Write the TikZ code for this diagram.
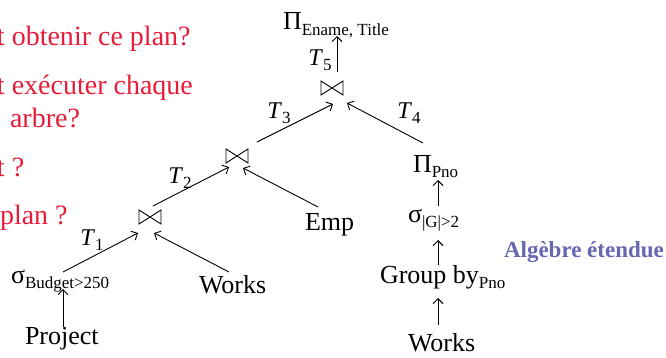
\documentclass[tikz,border=0pt]{standalone}
\usepackage{fontspec}
\setmainfont{Liberation Serif}
\usetikzlibrary{arrows.meta}
\definecolor{qred}{RGB}{232,28,56}
\definecolor{qblue}{RGB}{102,102,178}
\newcommand\sbs[1]{\raisebox{-0.5ex}{\fontsize{17}{17}\selectfont #1}}
\newcommand\tlab[1]{\textit{T}\raisebox{-0.45ex}{\fontsize{17}{17}\selectfont #1}}
\begin{document}
\begin{tikzpicture}[x=1pt,y=-1pt,
  every node/.style={inner sep=0pt,outer sep=0pt,font=\fontsize{26}{28}\selectfont},
  op/.style={anchor=base west},
  qtext/.style={anchor=base west,text=qred,font=\fontsize{28}{30}\selectfont},
  lab/.style={font=\fontsize{24}{24}\selectfont},
  joinop/.style={minimum width=22pt,minimum height=14pt},
  arr/.style={-{Straight Barb[length=5pt,width=10pt]},line width=0.9pt}]
\useasboundingbox (0,0) rectangle (666,358);
% questions
\node[qtext] (q1) at (-3,46) {t obtenir ce plan?};
\node[qtext] (q2) at (-3,95) {t exécuter chaque};
\node[qtext] (q3) at (10,128) {arbre?};
\node[qtext] (q4) at (-3,176) {t ?};
\node[qtext] (q5) at (0,224) {plan ?};
% top
\node[op] (pt) at (283,30) {Π\sbs{Ename, Title}};
\node[joinop] (j3) at (332,88) {};
\draw[line width=0.9pt] (j3.north west) -- (j3.south west) -- (j3.north east) -- (j3.south east) -- cycle;
\node[joinop] (j2) at (237,156) {};
\draw[line width=0.9pt] (j2.north west) -- (j2.south west) -- (j2.north east) -- (j2.south east) -- cycle;
\node[joinop] (j1) at (150,217) {};
\draw[line width=0.9pt] (j1.north west) -- (j1.south west) -- (j1.north east) -- (j1.south east) -- cycle;
\coordinate (j3t) at (337,72);
\coordinate (pta) at (337,36);
\draw[arr] (j3t) -- (pta);
\node[lab] (t5) at (320,60) {\tlab{5}};
\node[lab] (t3) at (279,113) {\tlab{3}};
\node[lab] (t4) at (409,113) {\tlab{4}};
\node[lab] (t2) at (180,178) {\tlab{2}};
\node[lab] (t1) at (92,240) {\tlab{1}};
% right branch
\node[op] (ppno) at (413,172) {Π\sbs{Pno}};
\node[op] (sg) at (408,222) {σ\sbs{|G|>2}};
\node[op] (gb) at (380,283) {Group by\sbs{Pno}};
\node[op] (w2) at (408,351) {Works};
\node[anchor=base west,text=qblue,font=\bfseries\fontsize{23}{23}\selectfont] (alg) at (504,257) {Algèbre étendue};
% left
\node[op] (sb) at (11,283) {σ\sbs{Budget>250}};
\node[op] (pr) at (25,344) {Project};
\node[op] (w1) at (199,293) {Works};
\node[op] (emp) at (305,230) {Emp};
% connectors
\coordinate (a1) at (257,142); \coordinate (b1) at (333,104);
\draw[arr] (a1) -- (b1);
\coordinate (a2) at (423,143); \coordinate (b2) at (347,103);
\draw[arr] (a2) -- (b2);
\coordinate (a3) at (153,206); \coordinate (b3) at (229,167);
\draw[arr] (a3) -- (b3);
\coordinate (a4) at (318,207); \coordinate (b4) at (243,168);
\draw[arr] (a4) -- (b4);
\coordinate (a5) at (63,272); \coordinate (b5) at (138,233);
\draw[arr] (a5) -- (b5);
\coordinate (a6) at (229,272); \coordinate (b6) at (154,233);
\draw[arr] (a6) -- (b6);
\coordinate (a7) at (63,327); \coordinate (b7) at (63,289);
\draw[arr] (a7) -- (b7);
\coordinate (a8) at (438,206); \coordinate (b8) at (438,180);
\draw[arr] (a8) -- (b8);
\coordinate (a9) at (438,265); \coordinate (b9) at (438,240);
\draw[arr] (a9) -- (b9);
\coordinate (a10) at (438,325); \coordinate (b10) at (438,298);
\draw[arr] (a10) -- (b10);
\end{tikzpicture}
\end{document}
